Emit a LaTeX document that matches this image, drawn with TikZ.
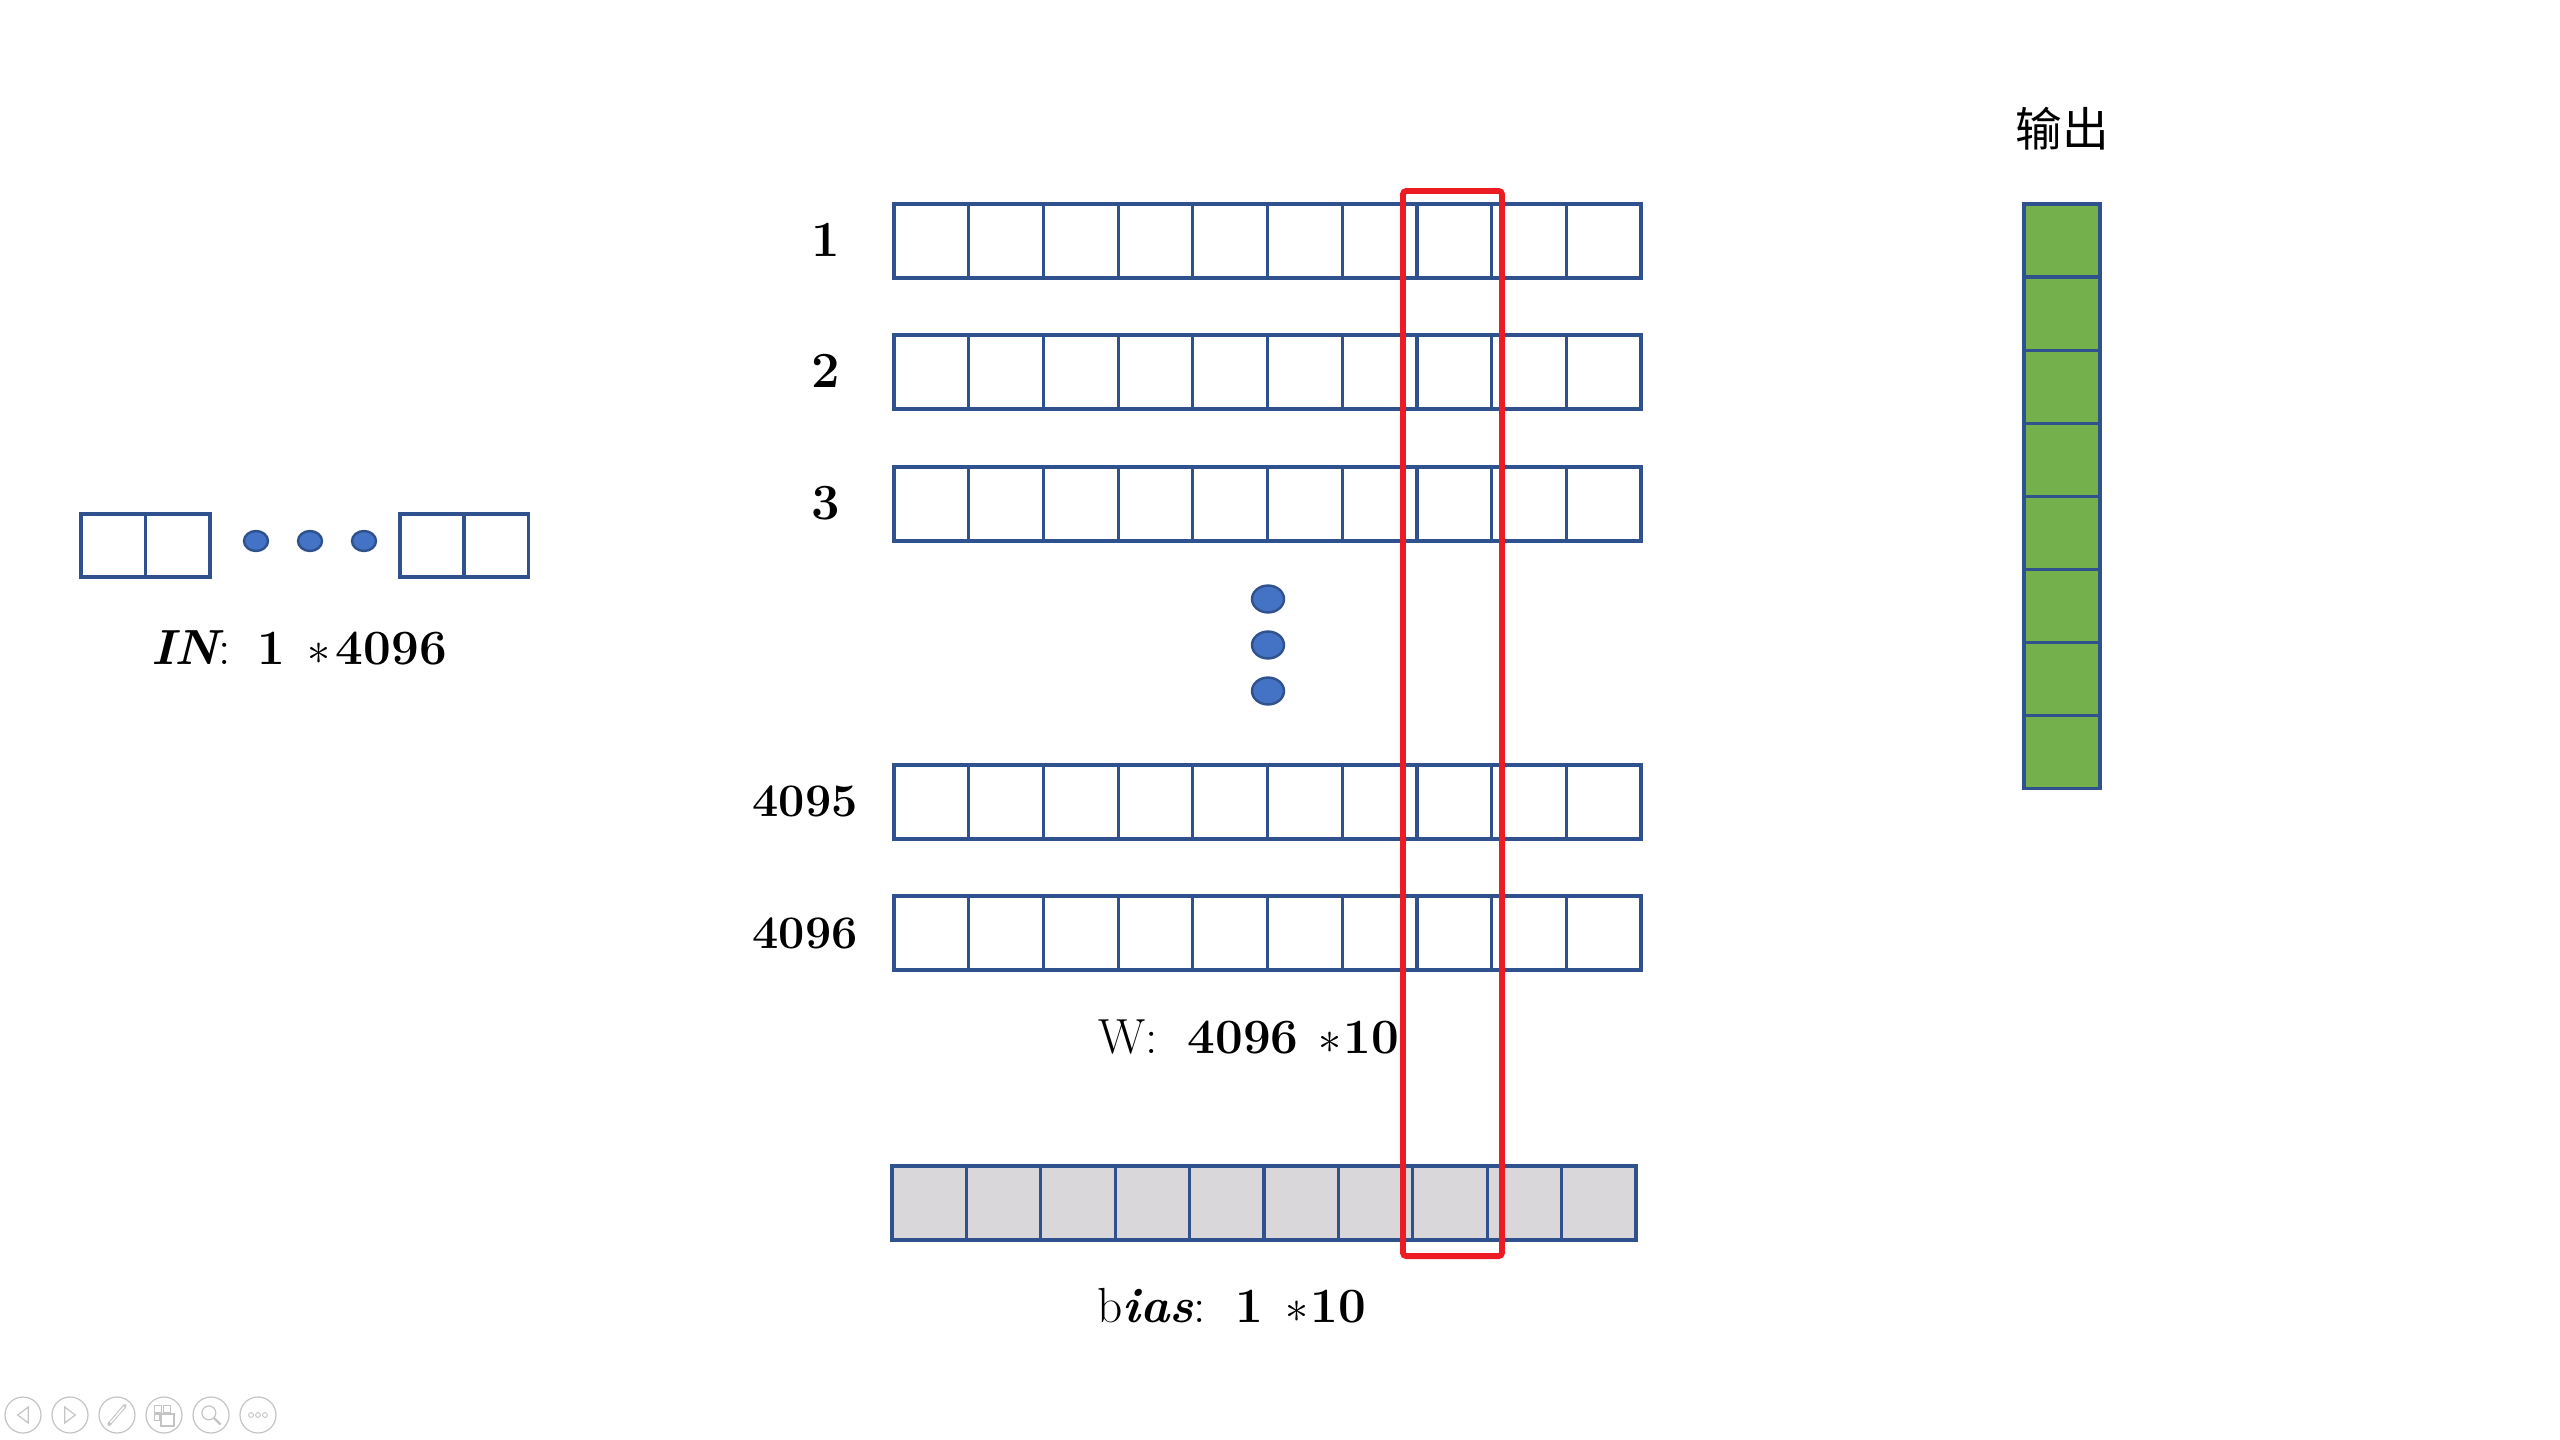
\documentclass[tikz,border=0pt]{standalone}
\usepackage{fontspec}
\newfontfamily\cjk{Noto Sans CJK SC}
\usetikzlibrary{shapes.geometric}
\definecolor{boxblue}{HTML}{2F528F}
\definecolor{dotblue}{HTML}{4472C4}
\definecolor{cellgreen}{HTML}{74B14C}
\definecolor{cellgray}{HTML}{D9D7DA}
\definecolor{selred}{HTML}{ED1C24}
\definecolor{uigray}{HTML}{C4C4C4}
\begin{document}
\begin{tikzpicture}[x=0.375pt,y=-0.375pt,
  cellbox/.style={draw=boxblue, line width=1.2pt, inner sep=0pt, outer sep=0pt,
    minimum width=28.01pt, minimum height=27.75pt, anchor=north west},
  incell/.style={cellbox, minimum width=24.2pt, minimum height=23.6pt},
  biascell/.style={cellbox, fill=cellgray, minimum width=27.9pt},
  outcell/.style={cellbox, fill=cellgreen, minimum width=28.5pt, minimum height=27.42pt},
  dotmark/.style={ellipse, draw=boxblue, fill=dotblue, line width=0.9pt, inner sep=0pt},
  smalldot/.style={dotmark, minimum width=9pt, minimum height=7.5pt},
  bigdot/.style={dotmark, minimum width=12pt, minimum height=10.1pt},
  rowlbl/.style={inner sep=0pt, font=\fontsize{19}{22}\selectfont\bfseries},
  biglbl/.style={inner sep=0pt, font=\fontsize{17.5}{20}\selectfont\bfseries},
  formula/.style={inner sep=0pt, font=\fontsize{18.5}{22}\selectfont},
  uibtn/.style={circle, draw=uigray, line width=0.45pt, minimum size=13.5pt, inner sep=0pt},
  uiicon/.style={draw=uigray, line width=0.45pt}
]
\useasboundingbox (0,0) rectangle (2560,1440);

% ---- input vector ----
\node[incell] (in1) at (81,514) {};
\node[incell] (in2) at (145.5,514) {};
\node[smalldot] (d1) at (256,541) {};
\node[smalldot] (d2) at (310,541) {};
\node[smalldot] (d3) at (364,541) {};
\node[incell] (in3) at (400,514) {};
\node[incell] (in4) at (464,514) {};
\node[formula] (inlbl) at (299,648)
  {{\bfseries\itshape IN}:\hspace{0.55em}{\bfseries 1}\hspace{0.45em}$\ast$\hspace{0.1em}{\bfseries 4096}};

% ---- weight matrix rows ----
\foreach \r/\top in {1/204, 2/335, 3/467, 4095/765, 4096/896}
  \foreach \c in {0,...,9}
    \node[cellbox] (w\r-\c) at ({894+74.7*\c},\top) {};

\node[rowlbl] (l1) at (826,240) {1};
\node[rowlbl] (l2) at (826,371) {2};
\node[rowlbl] (l3) at (826,503) {3};
\node[biglbl] (l4095) at (805,801) {4095};
\node[biglbl] (l4096) at (805,933) {4096};

\node[bigdot] (m1) at (1268,599) {};
\node[bigdot] (m2) at (1268,645) {};
\node[bigdot] (m3) at (1268,691) {};

\node[formula] (wlbl) at (1249,1037)
  {W:\hspace{0.6em}{\bfseries 4096}\hspace{0.4em}$\ast$\hspace{0.05em}{\bfseries 10}};

% ---- bias ----
\foreach \c in {0,...,9}
  \node[biascell] (b\c) at ({892+74.4*\c},1166) {};
\node[formula] (blbl) at (1232,1306)
  {b{\bfseries\itshape ias}:\hspace{0.6em}{\bfseries 1}\hspace{0.45em}$\ast$\hspace{0.05em}{\bfseries 10}};

% ---- selection ----
\node[draw=selred, line width=2.2pt, rounded corners=1.2pt, inner sep=0pt, outer sep=0pt,
  minimum width=37.1pt, minimum height=399.4pt, anchor=north west] (sel) at (1403,191) {};

% ---- output ----
\node[inner sep=0pt, font=\cjk\fontsize{17.5}{20}\selectfont] (outlbl) at (2062,129) {输出};
\foreach \k in {0,...,7}
  \node[outcell] (o\k) at (2024,{204+73.1*\k}) {};

% ---- slideshow controls ----
\foreach \k/\cx in {1/23, 2/70, 3/117, 4/164, 5/211, 6/258}
  \node[uibtn] (ui\k) at (\cx,1415) {};
\draw[uiicon] ([xshift=2pt,yshift=3pt]ui1.center) -- ([xshift=-2pt]ui1.center) -- ([xshift=2pt,yshift=-3pt]ui1.center) -- cycle;
\draw[uiicon] ([xshift=-2pt,yshift=3pt]ui2.center) -- ([xshift=2pt]ui2.center) -- ([xshift=-2pt,yshift=-3pt]ui2.center) -- cycle;
\draw[uiicon, line width=1.4pt, line cap=round] ([xshift=-3pt,yshift=-3.5pt]ui3.center) -- ([xshift=3pt,yshift=3.5pt]ui3.center);
\draw[draw=white, line width=0.6pt, line cap=round] ([xshift=-2.4pt,yshift=-2.8pt]ui3.center) -- ([xshift=2.6pt,yshift=3pt]ui3.center);
\draw[uiicon] ([xshift=-3.5pt,yshift=3.5pt]ui4.center) rectangle ([xshift=-0.8pt,yshift=1pt]ui4.center);
\draw[uiicon] ([xshift=-0.3pt,yshift=3.5pt]ui4.center) rectangle ([xshift=2.3pt,yshift=1pt]ui4.center);
\draw[uiicon] ([xshift=-3.5pt,yshift=0.4pt]ui4.center) rectangle ([xshift=-1.5pt,yshift=-2pt]ui4.center);
\draw[uiicon, line width=0.7pt] ([xshift=-1pt,yshift=0.5pt]ui4.center) rectangle ([xshift=3.8pt,yshift=-4pt]ui4.center);
\draw[uiicon] ([xshift=-0.8pt,yshift=0.8pt]ui5.center) circle (2.6pt);
\draw[uiicon, line width=0.9pt] ([xshift=1.1pt,yshift=-1.1pt]ui5.center) -- ([xshift=3.6pt,yshift=-3.6pt]ui5.center);
\foreach \dx in {-2.6,0,2.6}
  \draw[uiicon, line width=0.35pt] ([xshift=\dx pt]ui6.center) circle (0.9pt);
\end{tikzpicture}
\end{document}
